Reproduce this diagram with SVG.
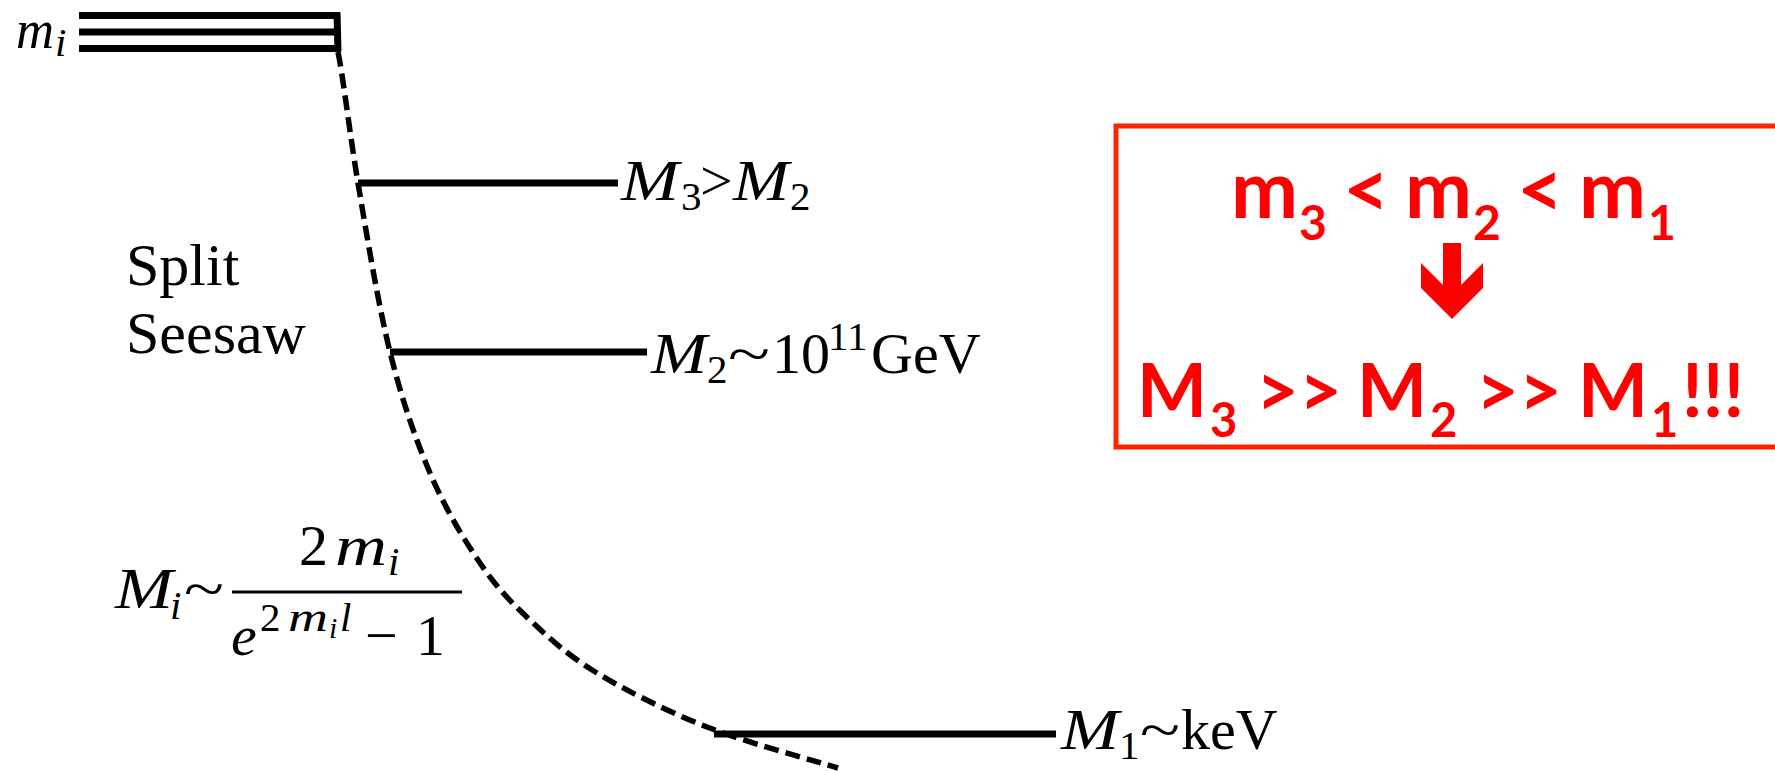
<svg xmlns="http://www.w3.org/2000/svg" width="1775" height="771" viewBox="0 0 1775 771">
<style>
.s{font-family:"Liberation Serif","Times New Roman",serif;fill:#000}
.it{font-style:italic}
.big{font-size:58px}
.sub{font-size:41px}
.ssub{font-size:30px}
.lvl{stroke:#000;stroke-width:7;fill:none}
.red{font-family:Lato,"Open Sans",sans-serif;font-weight:bold;fill:#ff0000}
</style>
<rect width="1775" height="771" fill="#fff"/>

<g id="mi-levels">
  <line class="lvl" x1="79" y1="15.5" x2="340" y2="15.5" stroke-width="6"/>
  <line class="lvl" x1="79" y1="32" x2="340" y2="32" stroke-width="6"/>
  <line class="lvl" x1="79" y1="48.5" x2="340" y2="48.5" stroke-width="6"/>
  <line class="lvl" x1="337" y1="12.5" x2="338" y2="51.5" stroke-width="6"/>
  <text class="s it" font-size="54" x="16" y="48" textLength="38" lengthAdjust="spacingAndGlyphs">m</text>
  <text class="s it sub" x="55" y="56">i</text>
</g>

<g id="connectors">
  <path d="M338,52 C343,76 349.7,133.5 358,183 C366.3,232.5 378,303.7 390,352 C402,400.3 415,437.8 430,473 C445,508.2 463.3,538.5 480,563 C496.7,587.5 510.5,601.7 530,620 C549.5,638.3 567.5,655.2 597,673 C626.5,690.8 666.8,711.2 707,727 C747.2,742.8 816.2,761.2 838,768" fill="none" stroke="#000" stroke-width="5.5" stroke-dasharray="15 7"/>
</g>

<g id="level-M3">
  <line class="lvl" x1="358" y1="183" x2="618" y2="183"/>
  <text class="s it big" x="621" y="200" textLength="58" lengthAdjust="spacingAndGlyphs">M</text>
  <text class="s sub" x="681" y="210">3</text>
  <text class="s big" x="700" y="200">&gt;</text>
  <text class="s it big" x="733" y="200" textLength="56" lengthAdjust="spacingAndGlyphs">M</text>
  <text class="s sub" x="790" y="210">2</text>
</g>

<g id="level-M2">
  <line class="lvl" x1="390" y1="352" x2="647" y2="352"/>
  <text class="s it big" x="651" y="373" textLength="56" lengthAdjust="spacingAndGlyphs">M</text>
  <text class="s sub" x="707" y="383">2</text>
  <text class="s big" x="728" y="373" textLength="42" lengthAdjust="spacingAndGlyphs">~</text>
  <text class="s big" x="772" y="373">10</text>
  <text class="s sub" x="828" y="350">11</text>
  <text class="s big" x="871" y="373">GeV</text>
</g>

<g id="level-M1">
  <line class="lvl" x1="714" y1="734" x2="1056" y2="734"/>
  <text class="s it big" x="1061" y="749" textLength="58" lengthAdjust="spacingAndGlyphs">M</text>
  <text class="s sub" x="1119" y="759">1</text>
  <text class="s big" x="1140" y="749" textLength="40" lengthAdjust="spacingAndGlyphs">~</text>
  <text class="s big" x="1181" y="749">keV</text>
</g>

<g id="label-split-seesaw">
  <text class="s" font-size="60" x="126" y="285">Split</text>
  <text class="s" font-size="60" x="126" y="353">Seesaw</text>
</g>

<g id="formula">
  <text class="s it big" x="115" y="608" textLength="58" lengthAdjust="spacingAndGlyphs">M</text>
  <text class="s it sub" x="170" y="619">i</text>
  <text class="s big" x="184" y="608" textLength="40" lengthAdjust="spacingAndGlyphs">~</text>
  <line x1="232" y1="592" x2="462" y2="592" stroke="#000" stroke-width="3"/>
  <text class="s big" x="299" y="565">2</text>
  <text class="s it big" x="335" y="565" textLength="52" lengthAdjust="spacingAndGlyphs">m</text>
  <text class="s it sub" x="388" y="575">i</text>
  <text class="s it big" x="231" y="655">e</text>
  <text class="s sub" x="260" y="631">2</text>
  <text class="s it sub" x="288" y="631" textLength="40" lengthAdjust="spacingAndGlyphs">m</text>
  <text class="s it ssub" x="329" y="638">i</text>
  <text class="s it sub" x="340" y="631">l</text>
  <text class="s big" x="365" y="655">−</text>
  <text class="s big" x="416" y="655">1</text>
</g>

<g id="red-box">
  <path d="M1790,126 H1116 V447 H1790" fill="none" stroke="#ff2400" stroke-width="5"/>
  <text class="red" font-size="80" x="1231" y="218">m</text>
  <text class="red" font-size="48" x="1299" y="240">3</text>
  <text class="red" font-size="80" x="1343" y="218">&lt;</text>
  <text class="red" font-size="80" x="1405" y="218">m</text>
  <text class="red" font-size="48" x="1473" y="240">2</text>
  <text class="red" font-size="80" x="1517" y="218">&lt;</text>
  <text class="red" font-size="80" x="1579" y="218">m</text>
  <text class="red" font-size="48" x="1648" y="240">1</text>
  <polygon points="1443,243 1461,243 1461,285 1483,263 1483,288 1452,319 1421,288 1421,263 1443,285" fill="#ff0000"/>
  <text class="red" font-size="74" x="1137" y="417" textLength="70" lengthAdjust="spacingAndGlyphs">M</text>
  <text class="red" font-size="47" x="1210" y="437">3</text>
  <text class="red" font-size="74" x="1256" y="417">&gt;&gt;</text>
  <text class="red" font-size="74" x="1357" y="417" textLength="70" lengthAdjust="spacingAndGlyphs">M</text>
  <text class="red" font-size="47" x="1430" y="437">2</text>
  <text class="red" font-size="74" x="1476" y="417">&gt;&gt;</text>
  <text class="red" font-size="74" x="1578" y="417" textLength="70" lengthAdjust="spacingAndGlyphs">M</text>
  <text class="red" font-size="47" x="1651" y="437">1</text>
  <text class="red" font-size="74" x="1682" y="417">!!!</text>
</g>
</svg>
